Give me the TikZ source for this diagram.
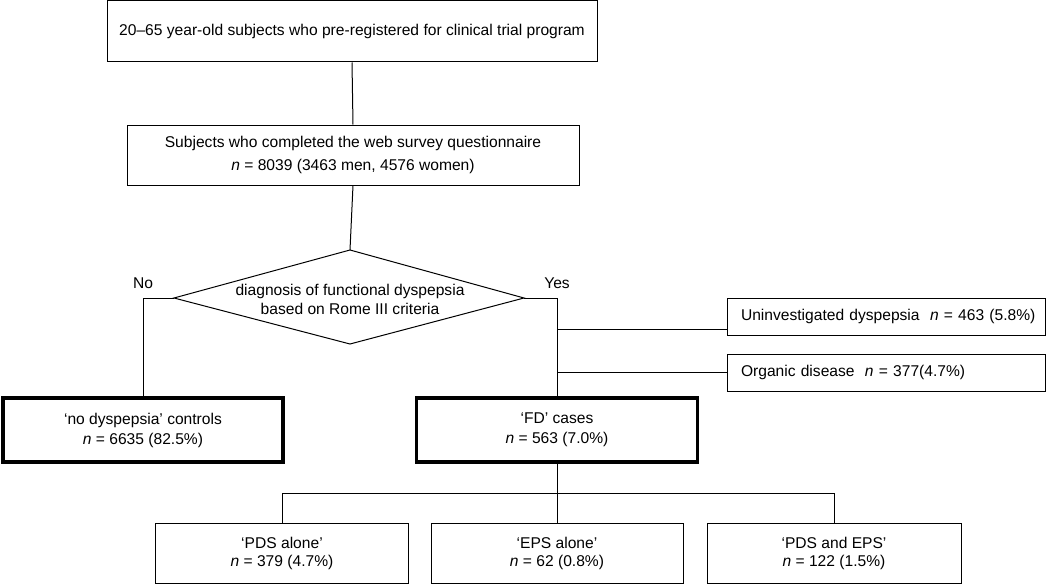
\documentclass[tikz,border=0pt]{standalone}
\usepackage{fontspec}
\setmainfont{Liberation Sans}
\tikzset{
  box/.style={draw, line width=1pt, rectangle, align=center, inner sep=0pt, font=\fontsize{15.6}{23}\selectfont},
  sidebox/.style={box, text width=304pt, inner xsep=7pt, align=left, minimum width=318pt, minimum height=37pt},
  thickbox/.style={box, line width=3.5pt, font=\fontsize{15.6}{20}\selectfont, minimum height=64pt},
  smallbox/.style={box, font=\fontsize{15.6}{18}\selectfont, minimum height=60pt},
  diatext/.style={align=center, inner sep=0pt, font=\fontsize{15.6}{19}\selectfont},
  lbl/.style={font=\fontsize{15.6}{18}\selectfont, inner sep=0pt},
  conn/.style={line width=1pt}
}
\begin{document}
\begin{tikzpicture}[x=1pt,y=-1pt]
\useasboundingbox (0,0) rectangle (1050,586);
\node[box, minimum width=490pt, minimum height=61pt] (top) at (352,31.5) {20–65 year-old subjects who pre-registered for clinical trial program};
\node[box, minimum width=452pt, minimum height=60pt] (web) at (353,155) {Subjects who completed the web survey questionnaire\\\textit{n} = 8039 (3463 men, 4576 women)};
\coordinate (dT) at (350,250);
\coordinate (dB) at (350,344);
\coordinate (dL) at (174,298);
\coordinate (dR) at (524,298);
\draw[conn, line join=miter] (dT) -- (dR) -- (dB) -- (dL) -- cycle;
\node[diatext] (diag) at (350,299) {diagnosis of functional dyspepsia\\based on Rome III criteria};
\node[lbl] (no) at (143,283) {No};
\node[lbl] (yes) at (557,283) {Yes};
\node[sidebox] (unin) at (886,316.5) {\hspace*{7pt}Uninvestigated dyspepsia\ \ \textit{n} = 463 (5.8\%)};
\node[sidebox] (org) at (886,372.5) {\hspace*{7pt}Organic disease\ \ \textit{n} = 377(4.7\%)};
\node[thickbox, minimum width=280pt] (nodys) at (143,430) {‘no dyspepsia’ controls\\\textit{n} = 6635 (82.5\%)};
\node[thickbox, minimum width=281pt] (fd) at (557,430) {‘FD’ cases\\\textit{n} = 563 (7.0\%)};
\node[smallbox, minimum width=253pt] (pds) at (282,553) {‘PDS alone’\\\textit{n} = 379 (4.7\%)};
\node[smallbox, minimum width=252pt] (eps) at (557,553) {‘EPS alone’\\\textit{n} = 62 (0.8\%)};
\node[smallbox, minimum width=254pt] (both) at (834,553) {‘PDS and EPS’\\\textit{n} = 122 (1.5\%)};
\coordinate (b1) at (557,329);
\coordinate (b2) at (557,372);
\coordinate (h) at (557,493);
\draw[conn] (top.south) -- (web.north);
\draw[conn] (web.south) -- (dT);
\draw[conn] (dL) -| (nodys.north);
\draw[conn] (dR) -| (fd.north);
\draw[conn] (b1) -- (b1 -| unin.west);
\draw[conn] (b2) -- (b2 -| org.west);
\draw[conn] (fd.south) -- (eps.north);
\draw[conn] (pds.north) |- (h -| both.north) -- (both.north);
\end{tikzpicture}
\end{document}
